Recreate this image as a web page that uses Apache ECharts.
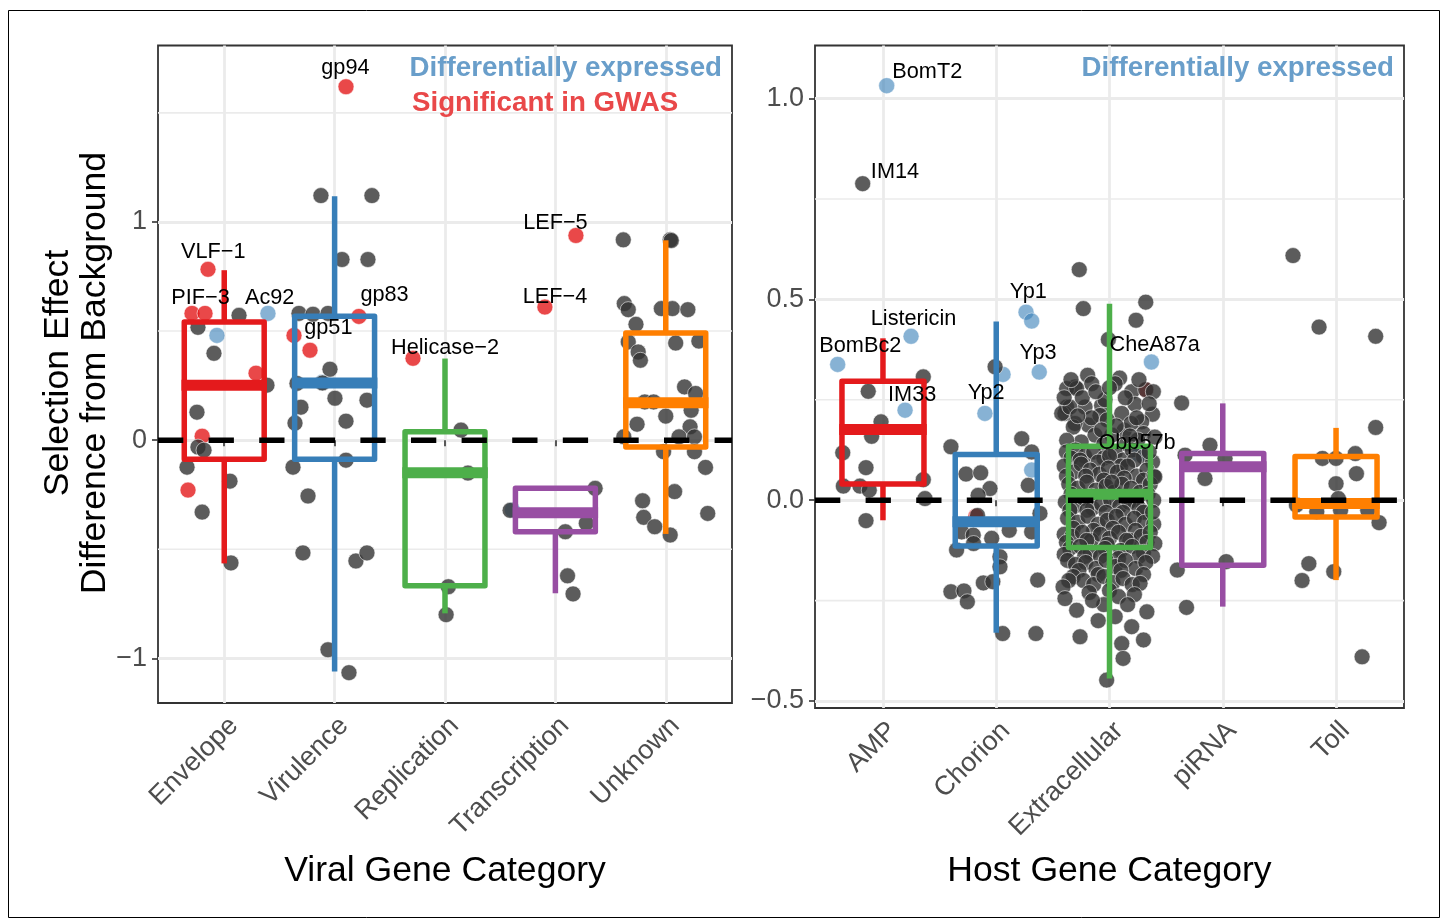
<!DOCTYPE html>
<html><head><meta charset="utf-8">
<script src="https://cdn.jsdelivr.net/npm/echarts/dist/echarts.min.js"></script>
<style>html,body{margin:0;padding:0;background:#fff}#c{width:1444px;height:922px}</style>
</head><body><div id="c"></div><script>
// ---------------- DATA ----------------
const viralCategories = ['Envelope','Virulence','Replication','Transcription','Unknown'];
const viralYTicks = [-1, 0, 1];
const viralYMinor = [-0.5, 0.5, 1.5];
const viralYRange = [-1.205, 1.809];
// [lower whisker, Q1, median, Q3, upper whisker]
const viralBoxes = [
  [-0.565, -0.088, 0.252, 0.542, 0.779],
  [-1.061, -0.088, 0.262, 0.568, 1.118],
  [-0.794, -0.668, -0.150, 0.038, 0.374],
  [-0.702, -0.420, -0.333, -0.221, -0.221],
  [-0.430, -0.031, 0.171, 0.491, 0.916]
];
// points: [jittered category position, value]
const viralGrey = [
  [1.134,0.572],[0.762,0.517],[0.907,0.398],[1.387,0.252],[0.753,0.128],[0.762,-0.032],[0.817,-0.046],
  [0.663,-0.124],[1.052,-0.188],[0.800,-0.330],[1.061,-0.563],
  [1.876,1.121],[2.338,1.121],[2.067,0.828],[2.302,0.828],[1.677,0.581],[1.804,0.577],[1.940,0.581],
  [1.958,0.325],[1.659,0.260],[1.890,0.262],[2.003,0.192],[2.293,0.183],[1.695,0.151],[2.103,0.087],[1.641,0.078],
  [1.623,-0.124],[2.103,-0.092],[1.759,-0.256],[1.713,-0.517],[2.193,-0.554],[2.293,-0.517],[1.940,-0.961],[2.130,-1.066],
  [3.145,0.046],[3.208,-0.151],[3.030,-0.672],[3.010,-0.800],
  [3.590,-0.322],[4.360,-0.221],[4.280,-0.381],[4.090,-0.420],[4.110,-0.622],[4.160,-0.705],
  [4.615,0.918],[5.040,0.918],[5.050,0.915],[4.624,0.626],[4.660,0.598],[4.960,0.603],[5.060,0.603],[5.200,0.598],
  [4.730,0.531],[4.660,0.450],[4.750,0.404],[4.770,0.366],[5.090,0.445],[5.300,0.454],[5.170,0.244],[5.270,0.214],
  [4.810,0.175],[4.890,0.175],[5.230,0.137],[5.000,0.110],[4.740,0.073],[5.220,0.061],[5.120,0.015],[5.260,0.015],
  [4.620,0.015],[4.980,-0.053],[5.260,-0.053],[5.360,-0.125],[5.080,-0.236],[4.790,-0.278],[4.800,-0.354],
  [4.900,-0.397],[5.040,-0.435],[5.380,-0.336]
];
const viralRed = [
  [0.853,0.783],[0.708,0.581],[0.826,0.581],[1.288,0.307],[0.800,0.018],[0.672,-0.229],
  [2.103,1.620],[2.220,0.567],[1.632,0.480],[1.777,0.412],
  [2.710,0.375],[4.186,0.938],[3.905,0.610]
];
const viralBlue = [[1.396,0.581],[0.934,0.480],[1.886,0.265],[3.610,-0.320]];
const viralLabels = [
  ['gp94',2.098,1.704],['VLF\u22121',0.901,0.861],['PIF\u22123',0.785,0.653],['Ac92',1.412,0.653],
  ['gp83',2.452,0.664],['gp51',1.943,0.513],['Helicase\u22122',3.000,0.424],['LEF\u22125',4.000,0.995],['LEF\u22124',3.996,0.656]
];

const hostCategories = ['AMP','Chorion','Extracellular','piRNA','Toll'];
const hostYTicks = [-0.5, 0, 0.5, 1.0];
const hostYMinor = [-0.25, 0.25, 0.75];
const hostYRange = [-0.5174, 1.132];
const hostBoxes = [
  [-0.050, 0.040, 0.176, 0.296, 0.403],
  [-0.330, -0.114, -0.054, 0.114, 0.445],
  [-0.444, -0.118, 0.015, 0.134, 0.489],
  [-0.265, -0.162, 0.083, 0.116, 0.241],
  [-0.199, -0.042, -0.008, 0.109, 0.180]
];
const hostGrey = [
  // AMP
  [0.821,0.788],[1.356,0.307],[0.870,0.271],[0.983,0.195],[0.900,0.159],[0.645,0.118],[0.850,0.081],[1.356,0.051],
  [0.650,0.035],[0.797,0.035],[0.879,0.025],[1.371,0.004],[0.850,-0.051],
  // Chorion
  [1.990,0.332],[1.600,0.133],[2.225,0.153],[2.313,0.120],[1.733,0.065],[1.863,0.068],[1.945,0.029],[1.840,0.012],
  [2.283,0.037],[2.386,-0.033],[1.695,-0.079],[1.797,-0.087],[1.960,-0.095],[2.115,-0.075],[2.313,-0.079],
  [1.650,-0.124],[1.800,-0.108],[2.033,-0.141],[2.033,-0.166],[1.886,-0.206],[1.970,-0.203],[1.600,-0.228],
  [1.715,-0.226],[1.745,-0.253],[2.366,-0.199],[2.057,-0.332],[2.350,-0.332],[1.835,-0.038],
  // Extracellular
  [2.733,0.574],[2.769,0.477],[3.320,0.493],[3.234,0.448],[2.990,0.400],[2.807,0.311],[2.695,0.282],[2.843,0.290],
  [3.090,0.304],[3.196,0.270],[3.320,0.275],[3.387,0.270],[2.622,0.232],[2.607,0.216],[2.784,0.232],[2.930,0.236],
  [3.108,0.216],[3.225,0.239],[3.380,0.214],[3.284,0.195],[2.813,0.187],[2.916,0.211],[2.695,0.191],[3.130,0.174],
  [3.190,0.191],[2.872,0.162],[3.020,0.162],[3.300,0.166],[3.400,0.157],[2.578,0.216],[2.680,0.182],[2.622,0.278],
  [2.710,0.278],[2.650,0.232],[2.960,0.250],[3.050,0.290],[2.750,0.145],[2.950,0.140],[3.150,0.140],[3.250,0.150],[2.622,0.149],
  [2.66,0.300],[2.76,0.255],[2.88,0.270],[3.00,0.280],[3.14,0.255],[3.26,0.300],[2.60,0.255],[2.84,0.205],[2.98,0.200],
  [3.06,0.185],[3.24,0.205],[3.35,0.240],[2.72,0.210],[2.93,0.175],[3.18,0.160],
  [2.62,0.120],[2.70,0.125],[2.78,0.110],[2.86,0.120],[2.95,0.105],[3.05,0.118],[3.12,0.100],[3.20,0.125],[3.30,0.108],[3.38,0.095],
  [2.66,0.105],[2.74,0.100],[2.90,0.095],[3.00,0.110],[3.10,0.085],[3.22,0.100],[3.35,0.120],
  [2.60,0.085],[2.68,0.070],[2.75,0.090],[2.83,0.075],[2.91,0.065],[2.99,0.080],[3.07,0.070],[3.16,0.085],[3.24,0.060],[3.33,0.075],
  [2.62,0.060],[2.79,0.060],[2.95,0.050],[3.13,0.055],[3.30,0.050],[3.39,0.060],
  [2.64,0.040],[2.72,0.030],[2.80,0.045],[2.88,0.025],[2.97,0.035],[3.04,0.020],[3.11,0.040],[3.19,0.030],[3.27,0.020],[3.36,0.040],
  [2.66,0.015],[2.84,0.010],[3.02,0.045],[3.21,0.000],[3.34,0.015],
  [2.61,-0.005],[2.69,-0.015],[2.77,0.005],[2.85,-0.020],[2.93,-0.010],[3.01,0.000],[3.09,-0.015],[3.17,-0.005],[3.26,-0.020],[3.39,0.000],
  [2.65,-0.025],[2.80,-0.025],[2.97,-0.030],[3.12,-0.030],[3.30,-0.030],
  [2.63,-0.045],[2.72,-0.055],[2.81,-0.040],[2.90,-0.060],[2.98,-0.050],[3.06,-0.040],[3.14,-0.060],[3.22,-0.045],[3.31,-0.055],
  [2.68,-0.070],[2.86,-0.075],[3.03,-0.070],[3.23,-0.075],[3.39,-0.060],
  [2.60,-0.085],[2.67,-0.090],[2.76,-0.080],[2.84,-0.100],[2.92,-0.085],[3.00,-0.095],[3.08,-0.080],[3.18,-0.100],[3.28,-0.090],[3.36,-0.080],
  [2.62,-0.105],[2.80,-0.100],[2.98,-0.110],[3.15,-0.100],[3.33,-0.105],
  [2.65,-0.120],[2.74,-0.115],[2.83,-0.130],[2.96,-0.120],[3.10,-0.125],[3.20,-0.115],[3.30,-0.130],[3.40,-0.108],
  [2.60,-0.135],[2.78,-0.140],[2.92,-0.140],[3.08,-0.145],[3.26,-0.140],[3.38,-0.140],
  [2.63,-0.150],[2.70,-0.160],[2.79,-0.155],[2.88,-0.170],[2.97,-0.150],[3.05,-0.165],[3.14,-0.150],[3.23,-0.170],[3.32,-0.155],
  [2.73,-0.175],[2.90,-0.185],[3.10,-0.175],[3.30,-0.185],
  [2.68,-0.190],[2.77,-0.200],[2.86,-0.210],[2.95,-0.190],[3.03,-0.205],[3.12,-0.195],[3.20,-0.210],[3.27,-0.207],
  [2.64,-0.200],[2.82,-0.230],[3.00,-0.225],[3.22,-0.235],[2.95,-0.260],[3.05,-0.290],[2.90,-0.300],
  [2.590,-0.216],[2.607,-0.245],[2.710,-0.274],[2.740,-0.340],[3.080,-0.240],[3.160,-0.260],[3.330,-0.278],[3.196,-0.315],
  [3.300,-0.348],[3.108,-0.357],[3.120,-0.394],[2.975,-0.448],[2.850,-0.250],[3.400,0.058],[3.380,-0.030],
  // piRNA
  [3.637,0.242],[3.887,0.137],[3.667,0.112],[4.020,0.104],[3.843,0.054],[4.030,-0.153],[3.598,-0.174],[3.680,-0.267],
  // Toll
  [4.620,0.609],[4.850,0.431],[5.350,0.408],[5.350,0.181],[4.880,0.104],[5.000,0.104],[5.170,0.116],[5.180,0.066],
  [5.000,0.041],[5.020,0.004],[4.650,-0.012],[4.830,-0.029],[5.040,-0.025],[5.280,-0.025],[5.380,-0.056],
  [4.760,-0.158],[4.700,-0.200],[4.980,-0.178],[5.230,-0.390]
];
const hostRed = [[1.820,-0.040],[3.320,0.275]];
const hostBlue = [
  [1.033,1.032],[1.248,0.408],[0.600,0.338],[1.195,0.224],
  [2.263,0.468],[2.313,0.446],[2.380,0.319],[1.900,0.216],[2.060,0.313],[2.313,0.075],
  [3.370,0.344],[3.263,0.114]
];
const hostLabels = [
  ['BomT2',1.391,1.067],['IM14',1.106,0.817],['Listericin',1.270,0.451],['BomBc2',0.800,0.385],['IM33',1.258,0.263],
  ['Yp1',2.283,0.518],['Yp2',1.911,0.266],['Yp3',2.369,0.367],['CheA87a',3.399,0.386],['Obp57b',3.243,0.143]
];
const refLineValue = 0;
const xRange = [0.4, 5.6];
const catPositions = [1, 2, 3, 4, 5];

// ---------------- STYLE ----------------
const FONT = '"Liberation Sans", Arial, Helvetica, sans-serif';
const boxColors = ['#E41A1C','#377EB8','#4DAF4A','#984EA3','#FF7F00'];
const BOX_HALF = 0.362;
const minus = s => String(s).replace('-', '\u2212');

const chart = echarts.init(document.getElementById('c'), null, {renderer: 'canvas'});

function boxRender(params, api) {
  const x = api.value(0);
  const lo = api.value(1), q1 = api.value(2), med = api.value(3), q3 = api.value(4), hi = api.value(5);
  const tl = api.coord([x - BOX_HALF, q3]);
  const br = api.coord([x + BOX_HALF, q1]);
  const c = api.coord([x, med]);
  const top = api.coord([x, hi]);
  const bot = api.coord([x, lo]);
  const color = boxColors[params.dataIndex];
  const lw = 5.5;
  return {type: 'group', children: [
    {type: 'line', shape: {x1: c[0], y1: top[1], x2: c[0], y2: tl[1]}, style: {stroke: color, lineWidth: lw, lineCap: 'butt'}},
    {type: 'line', shape: {x1: c[0], y1: br[1], x2: c[0], y2: bot[1]}, style: {stroke: color, lineWidth: lw, lineCap: 'butt'}},
    {type: 'rect', shape: {x: tl[0], y: tl[1], width: br[0] - tl[0], height: br[1] - tl[1]},
      style: {fill: 'none', stroke: color, lineWidth: lw, lineJoin: 'round'}},
    {type: 'line', shape: {x1: tl[0] - lw / 2, y1: c[1], x2: br[0] + lw / 2, y2: c[1]}, style: {stroke: color, lineWidth: 11, lineCap: 'butt'}}
  ]};
}
function minorRender(params, api) {
  const cs = params.coordSys;
  const y = api.coord([1, api.value(1)])[1];
  return {type: 'line', shape: {x1: cs.x, y1: y, x2: cs.x + cs.width, y2: y}, style: {stroke: '#EBEBEB', lineWidth: 1.6}};
}
function makeLabelRender(list) {
  return function (params, api) {
    const p = api.coord([api.value(0), api.value(1)]);
    return {type: 'text', x: p[0], y: p[1], style: {
      text: list[params.dataIndex][0], fill: '#000', font: '21.7px ' + FONT,
      align: 'center', verticalAlign: 'middle', textAlign: 'center', textVerticalAlign: 'middle'}};
  };
}

function xAxisFor(gi, cats) {
  return {
    type: 'value', gridIndex: gi, min: xRange[0], max: xRange[1],
    axisLine: {show: false},
    axisTick: {show: true, customValues: catPositions, length: 6, lineStyle: {color: '#333', width: 1.6}},
    axisLabel: {customValues: catPositions, rotate: 45, margin: 9, verticalAlign: 'top', align: 'right',
      color: '#4D4D4D', fontSize: 27, fontFamily: FONT,
      formatter: v => cats[Math.round(v) - 1]},
    splitLine: {show: true, lineStyle: {color: '#EBEBEB', width: 2.8}}
  };
}
function yAxisFor(gi, range, ticks, fmt) {
  return {
    type: 'value', gridIndex: gi, min: range[0], max: range[1],
    axisLine: {show: false},
    axisTick: {show: true, customValues: ticks, length: 6, lineStyle: {color: '#333', width: 1.6}},
    axisLabel: {customValues: ticks, margin: 11, color: '#4D4D4D', fontSize: 27, fontFamily: FONT, formatter: fmt},
    splitLine: {show: true, lineStyle: {color: '#EBEBEB', width: 2.8}}
  };
}
function pointSeries(data, color, opacity, xi) {
  return {type: 'scatter', xAxisIndex: xi, yAxisIndex: xi, data: data, symbolSize: 16, z: 2, silent: true,
    itemStyle: {color: color, opacity: opacity, borderColor: 'rgba(255,255,255,0.7)', borderWidth: 1}};
}
function panelSeries(xi, boxes, grey, red, blue, labels, minor) {
  return [
    {type: 'custom', xAxisIndex: xi, yAxisIndex: xi, z: 1, silent: true, renderItem: minorRender,
      data: minor.map(v => [1, v]), encode: {x: 0, y: 1}},
    pointSeries(red, '#E41A1C', 0.8, xi),
    pointSeries(blue, '#377EB8', 0.6, xi),
    pointSeries(grey, '#333333', 0.8, xi),
    {type: 'custom', xAxisIndex: xi, yAxisIndex: xi, z: 3, silent: true, renderItem: boxRender,
      data: boxes.map((b, i) => [catPositions[i]].concat(b)), encode: {x: 0, y: [1, 2, 3, 4, 5]}},
    {type: 'line', xAxisIndex: xi, yAxisIndex: xi, z: 4, silent: true, symbol: 'none',
      data: [[xRange[0], refLineValue], [xRange[1], refLineValue]],
      lineStyle: {color: '#000', width: 5.5, type: [25.3, 25.3], cap: 'butt'}},
    {type: 'custom', xAxisIndex: xi, yAxisIndex: xi, z: 5, silent: true, renderItem: makeLabelRender(labels),
      data: labels.map(l => [l[1], l[2]]), encode: {x: 0, y: 1}}
  ];
}

const option = {
  animation: false,
  backgroundColor: '#fff',
  grid: [
    {left: 158, top: 45.5, width: 574, height: 657.5, show: true, borderColor: '#333', borderWidth: 1.8, outerBoundsMode: 'none', containLabel: false},
    {left: 815, top: 45.5, width: 589, height: 662.5, show: true, borderColor: '#333', borderWidth: 1.8, outerBoundsMode: 'none', containLabel: false}
  ],
  xAxis: [xAxisFor(0, viralCategories), xAxisFor(1, hostCategories)],
  yAxis: [
    yAxisFor(0, viralYRange, viralYTicks, v => minus(Math.round(v))),
    yAxisFor(1, hostYRange, hostYTicks, v => minus(v.toFixed(1)))
  ],
  series: [].concat(
    panelSeries(0, viralBoxes, viralGrey, viralRed, viralBlue, viralLabels, viralYMinor),
    panelSeries(1, hostBoxes, hostGrey, hostRed, hostBlue, hostLabels, hostYMinor)
  ),
  graphic: [
    {type: 'rect', shape: {x: 8.5, y: 10.5, width: 1431, height: 907}, style: {fill: 'none', stroke: '#000', lineWidth: 1}, z: -1},
    {type: 'text', x: 76.5, y: 373, rotation: Math.PI / 2, style: {text: 'Selection Effect\nDifference from Background',
      fill: '#000', font: '35.6px ' + FONT, lineHeight: 37, align: 'center', verticalAlign: 'middle', textAlign: 'center', textVerticalAlign: 'middle'}},
    {type: 'text', x: 445, y: 871, style: {text: 'Viral Gene Category', fill: '#000', font: '35.6px ' + FONT,
      align: 'center', verticalAlign: 'middle', textAlign: 'center', textVerticalAlign: 'middle'}},
    {type: 'text', x: 1109.5, y: 871, style: {text: 'Host Gene Category', fill: '#000', font: '35.6px ' + FONT,
      align: 'center', verticalAlign: 'middle', textAlign: 'center', textVerticalAlign: 'middle'}},
    {type: 'text', x: 722, y: 68.5, z: 10, style: {text: 'Differentially expressed', fill: '#699ECA', font: 'bold 27.7px ' + FONT,
      align: 'right', verticalAlign: 'middle', textAlign: 'right', textVerticalAlign: 'middle'}},
    {type: 'text', x: 412, y: 103, z: 10, style: {text: 'Significant in GWAS', fill: '#E94849', font: 'bold 27.7px ' + FONT,
      align: 'left', verticalAlign: 'middle', textAlign: 'left', textVerticalAlign: 'middle'}},
    {type: 'text', x: 1394, y: 68.5, z: 10, style: {text: 'Differentially expressed', fill: '#699ECA', font: 'bold 27.7px ' + FONT,
      align: 'right', verticalAlign: 'middle', textAlign: 'right', textVerticalAlign: 'middle'}}
  ]
};
chart.setOption(option);
</script></body></html>
